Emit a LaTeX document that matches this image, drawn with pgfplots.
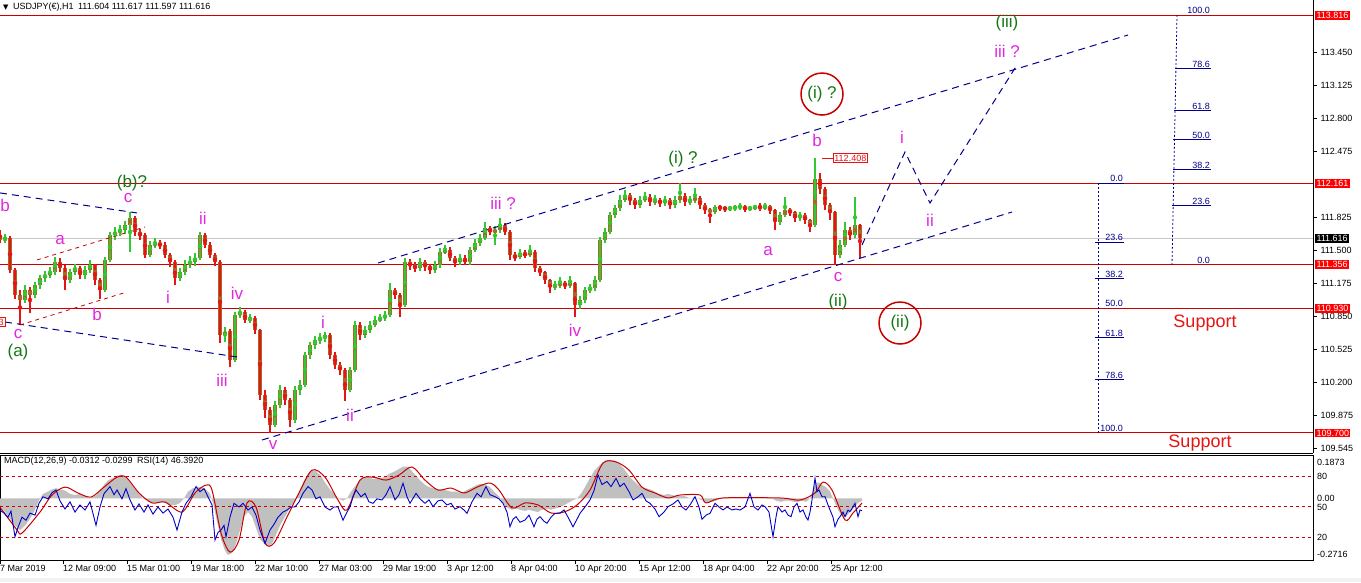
\documentclass[border=0pt]{standalone}
\usepackage{pgfplots}
\pgfplotsset{compat=1.18}
\usepackage{pgfplotstable}
\usepackage{fontspec}
\setmainfont{Liberation Sans}
\newfontfamily\dejavu{DejaVu Sans}

\definecolor{upc}{RGB}{50,200,50}
\definecolor{dnc}{RGB}{230,20,20}
\definecolor{bodyc}{RGB}{165,105,40}
\definecolor{lvl}{RGB}{200,0,0}
\definecolor{navy}{RGB}{0,0,140}
\definecolor{mag}{RGB}{225,40,225}
\definecolor{wgreen}{RGB}{20,120,20}
\definecolor{hist}{RGB}{192,192,192}
\definecolor{rsic}{RGB}{0,0,200}
\definecolor{curp}{RGB}{200,200,200}

\newcommand\smallf{\fontsize{9}{10}\selectfont}
\newcommand\wl{\fontsize{17}{17}\selectfont}

% H1 candles, one every 5 bars (x = bar position)
\pgfplotstableread{
x o h l c
0 111.650 111.700 111.570 111.601
5 111.601 111.660 111.570 111.621
10 111.621 111.640 111.280 111.305
15 111.305 111.330 111.020 111.059
20 111.059 111.110 110.764 111.010
25 111.010 111.160 110.980 111.108
30 111.108 111.140 110.882 111.059
35 111.059 111.190 111.030 111.158
40 111.158 111.260 111.120 111.227
45 111.227 111.300 111.190 111.256
50 111.256 111.330 111.230 111.286
55 111.286 111.433 111.260 111.384
60 111.384 111.420 111.290 111.325
65 111.325 111.350 111.108 111.207
70 111.207 111.320 111.180 111.286
75 111.286 111.370 111.260 111.325
80 111.325 111.350 111.220 111.256
85 111.256 111.340 111.220 111.305
90 111.305 111.400 111.280 111.355
95 111.355 111.370 111.160 111.207
100 111.207 111.230 111.020 111.108
105 111.108 111.430 111.090 111.404
110 111.404 111.680 111.380 111.650
115 111.650 111.730 111.600 111.680
120 111.680 111.749 111.640 111.699
125 111.699 111.790 111.660 111.749
130 111.749 111.877 111.483 111.818
135 111.818 111.840 111.640 111.680
140 111.680 111.710 111.600 111.650
145 111.650 111.670 111.420 111.453
150 111.453 111.590 111.430 111.552
155 111.552 111.620 111.520 111.571
160 111.571 111.600 111.510 111.552
165 111.552 111.580 111.420 111.453
170 111.453 111.470 111.340 111.384
175 111.384 111.400 111.158 111.227
180 111.227 111.320 111.200 111.286
185 111.286 111.400 111.260 111.355
190 111.355 111.440 111.320 111.384
195 111.384 111.470 111.350 111.424
200 111.424 111.680 111.400 111.650
205 111.650 111.670 111.520 111.552
210 111.552 111.580 111.420 111.453
215 111.453 111.470 111.350 111.384
220 111.384 111.400 110.586 110.665
225 110.665 110.740 110.600 110.700
230 110.700 110.720 110.350 110.419
235 110.419 110.890 110.400 110.862
240 110.862 110.941 110.830 110.892
245 110.892 110.910 110.780 110.813
250 110.813 110.870 110.780 110.832
255 110.832 110.850 110.680 110.714
260 110.714 110.730 110.030 110.074
265 110.074 110.120 109.850 109.927
270 109.927 109.960 109.700 109.779
275 109.779 110.020 109.760 109.976
280 109.976 110.170 109.950 110.124
285 110.124 110.150 109.980 110.025
290 110.025 110.050 109.759 109.828
295 109.828 110.160 109.800 110.124
300 110.124 110.220 110.080 110.173
305 110.173 110.500 110.150 110.468
310 110.468 110.600 110.430 110.566
315 110.566 110.660 110.530 110.616
320 110.616 110.680 110.580 110.635
325 110.635 110.694 110.600 110.665
330 110.665 110.680 110.430 110.468
335 110.468 110.500 110.330 110.370
340 110.370 110.400 110.270 110.321
345 110.321 110.340 110.015 110.124
350 110.124 110.350 110.100 110.321
355 110.321 110.800 110.300 110.764
360 110.764 110.790 110.620 110.665
365 110.665 110.750 110.640 110.714
370 110.714 110.800 110.690 110.764
375 110.764 110.850 110.740 110.813
380 110.813 110.870 110.790 110.832
385 110.832 110.900 110.800 110.862
390 110.862 111.177 110.840 111.108
395 111.108 111.130 111.020 111.059
400 111.059 111.080 110.842 110.960
405 110.960 111.420 110.940 111.384
410 111.384 111.410 111.310 111.355
415 111.355 111.380 111.290 111.325
420 111.325 111.420 111.300 111.384
425 111.384 111.400 111.300 111.345
430 111.345 111.370 111.270 111.305
435 111.305 111.390 111.280 111.355
440 111.355 111.520 111.330 111.483
445 111.483 111.550 111.460 111.502
450 111.502 111.530 111.390 111.424
455 111.424 111.440 111.340 111.384
460 111.384 111.460 111.360 111.424
465 111.424 111.450 111.350 111.384
470 111.384 111.530 111.360 111.502
475 111.502 111.610 111.480 111.571
480 111.571 111.660 111.540 111.621
485 111.621 111.778 111.600 111.719
490 111.719 111.740 111.650 111.680
495 111.680 111.740 111.550 111.699
500 111.699 111.818 111.670 111.749
505 111.749 111.770 111.650 111.680
510 111.680 111.700 111.400 111.453
515 111.453 111.480 111.390 111.433
520 111.433 111.510 111.410 111.473
525 111.473 111.500 111.420 111.453
530 111.453 111.550 111.430 111.483
535 111.483 111.500 111.290 111.325
540 111.325 111.340 111.250 111.286
545 111.286 111.300 111.170 111.207
550 111.207 111.220 111.080 111.138
555 111.138 111.200 111.110 111.158
560 111.158 111.240 111.130 111.177
565 111.177 111.200 111.120 111.158
570 111.158 111.250 111.130 111.177
575 111.177 111.190 110.842 110.960
580 110.960 111.050 110.920 111.010
585 111.010 111.140 110.980 111.108
590 111.108 111.170 111.080 111.128
595 111.128 111.250 111.100 111.207
600 111.207 111.630 111.190 111.601
605 111.601 111.720 111.570 111.680
610 111.680 111.880 111.660 111.847
615 111.847 111.950 111.820 111.916
620 111.916 112.040 111.890 111.995
625 111.995 112.090 111.970 112.044
630 112.044 112.060 111.950 111.995
635 111.995 112.020 111.910 111.946
640 111.946 112.030 111.920 111.995
645 111.995 112.070 111.970 112.025
650 112.025 112.050 111.940 111.975
655 111.975 112.040 111.950 111.995
660 111.995 112.020 111.930 111.966
665 111.966 112.030 111.940 111.995
670 111.995 112.010 111.910 111.946
675 111.946 112.030 111.920 111.995
680 111.995 112.162 111.970 112.034
685 112.034 112.060 111.940 111.975
690 111.975 112.030 111.950 111.995
695 111.995 112.113 111.970 112.015
700 112.015 112.030 111.910 111.946
705 111.946 111.960 111.860 111.897
710 111.897 111.920 111.768 111.877
715 111.877 111.950 111.860 111.926
720 111.926 111.950 111.890 111.916
725 111.916 111.940 111.880 111.906
730 111.906 111.940 111.890 111.916
735 111.916 111.950 111.890 111.926
740 111.926 111.960 111.900 111.930
745 111.930 111.950 111.880 111.906
750 111.906 111.940 111.890 111.916
755 111.916 111.950 111.900 111.926
760 111.926 111.960 111.890 111.916
765 111.916 111.970 111.900 111.936
770 111.936 111.950 111.860 111.897
775 111.897 111.910 111.699 111.778
780 111.778 111.880 111.750 111.847
785 111.847 112.025 111.830 111.897
790 111.897 111.920 111.840 111.877
795 111.877 111.890 111.780 111.818
800 111.818 111.880 111.790 111.847
805 111.847 111.870 111.760 111.798
810 111.798 111.810 111.680 111.749
815 111.749 112.408 111.730 112.200
820 112.200 112.260 112.050 112.100
825 112.100 112.120 111.900 111.946
830 111.946 111.970 111.800 111.877
835 111.877 111.890 111.355 111.453
840 111.453 111.600 111.420 111.552
845 111.552 111.778 111.530 111.699
850 111.699 111.730 111.600 111.650
855 111.650 112.025 111.620 111.749
860 111.749 111.760 111.424 111.616
}\candles

% MACD main (histogram)
\pgfplotstableread{
x m
0 -0.03
5 -0.06
10 -0.09
15 -0.12
20 -0.14
25 -0.12
30 -0.09
35 -0.05
39 -0.01
43 0.02
48 0.03
52 0.04
56 0.045
60 0.04
65 0.035
70 0.02
75 0.015
80 0.02
85 0.01
90 0.0
95 0.01
100 0.03
104 0.06
108 0.08
113 0.09
117 0.1
121 0.105
126 0.09
130 0.07
135 0.04
139 0.02
143 0.0
148 -0.01
152 -0.02
156 -0.02
160 -0.015
165 -0.02
170 -0.03
175 -0.03
180 -0.02
184 0.0
188 0.03
193 0.045
197 0.05
202 0.05
206 0.04
210 0.02
213 -0.02
217 -0.1
221 -0.18
225 -0.23
228 -0.25
232 -0.24
236 -0.2
240 -0.14
244 -0.08
248 -0.06
252 -0.08
256 -0.13
260 -0.18
264 -0.2
268 -0.21
272 -0.2
276 -0.16
280 -0.12
285 -0.08
290 -0.04
295 -0.01
299 0.03
303 0.07
308 0.11
312 0.125
316 0.12
321 0.1
325 0.07
330 0.04
334 0.02
338 0.0
343 -0.01
347 0.0
351 0.03
356 0.06
360 0.08
364 0.09
369 0.095
373 0.085
377 0.09
382 0.09
386 0.1
390 0.11
395 0.12
399 0.13
403 0.14
408 0.14
412 0.12
416 0.1
420 0.08
425 0.06
429 0.05
433 0.045
438 0.04
442 0.04
447 0.035
451 0.03
455 0.03
460 0.025
464 0.03
468 0.04
473 0.05
477 0.06
481 0.065
486 0.06
490 0.05
494 0.03
499 0.01
503 -0.02
507 -0.04
512 -0.05
516 -0.045
520 -0.05
525 -0.055
529 -0.05
533 -0.055
538 -0.06
542 -0.05
546 -0.045
551 -0.05
555 -0.045
559 -0.04
564 -0.03
568 -0.02
572 -0.01
577 0.0
581 0.02
585 0.05
590 0.09
594 0.12
598 0.14
603 0.16
607 0.17
611 0.17
616 0.165
620 0.15
624 0.13
629 0.1
633 0.08
638 0.06
642 0.05
646 0.045
650 0.04
655 0.03
659 0.02
664 0.015
668 0.02
672 0.015
677 0.01
681 0.01
685 0.01
690 0.0
694 0.005
698 0.0
703 -0.01
707 -0.02
711 -0.015
716 -0.01
720 0.0
724 0.005
729 0.005
733 0.0
737 0.005
742 0.005
746 0.005
750 0.005
755 0.005
759 0.0
763 0.005
768 0.005
772 0.0
776 -0.01
781 -0.015
785 -0.01
789 -0.01
794 -0.015
798 -0.015
802 -0.01
806 -0.015
810 0.0
813 0.04
816 0.07
819 0.07
822 0.06
826 0.05
830 0.03
834 -0.01
838 -0.05
842 -0.08
846 -0.08
850 -0.06
854 -0.04
858 -0.02
862 -0.01
}\macd

% MACD signal
\pgfplotstableread{
x s
0 -0.038
17 -0.139
22 -0.153
40 -0.06
52 0.015
65 0.05
78 0.024
91 0.006
104 0.05
117 0.094
126 0.094
139 0.024
152 -0.02
165 -0.016
182 -0.06
195 0.024
206 0.059
212 0.037
221 -0.153
230 -0.237
239 -0.184
247 -0.02
256 -0.038
265 -0.197
274 -0.197
287 -0.082
299 0.024
312 0.125
325 0.094
338 -0.007
347 -0.051
360 0.081
373 0.094
386 0.081
399 0.103
412 0.139
425 0.081
438 0.037
451 0.046
464 0.024
477 0.05
490 0.068
499 0.037
512 -0.042
525 -0.02
538 -0.029
551 -0.064
564 -0.06
577 -0.029
590 0.037
603 0.156
616 0.161
629 0.125
642 0.05
655 0.024
668 0.002
680 0.015
700 0.015
706 -0.02
723 0.002
780 0.002
800 -0.007
815 0.024
823 0.072
832 0.037
845 -0.095
853 -0.064
862 -0.02
}\signal

% RSI(14)
\pgfplotstableread{
x r
0 47
4 44
8 40
11 46
13 33
15 20.8
18 30
22 40
26 37
30 44
35 42
39 53.6
43 60
48 58
52 64
56 66.7
60 56
65 48
70 55
75 45
80 52
85 47
90 55
96 32
100 50
104 63
110 70
114 62
117 66.7
122 58
126 68
130 57
135 47
139 53
144 45
148 52
153 43
158 50
163 44
168 48
173 40
177 27.4
182 45
186 53.6
191 60
196 70
200 65
204 68
208 60
212 52
215 17.6
218 25
221 27.4
224 32
226 20.8
230 40
234 53.6
239 50
243 53.6
248 47
252 50
256 42
260 27.4
265 14.3
270 27.4
274 33
278 40
283 45
287 47
291 50
295 50
299 55
303 63.4
308 70
312 66.7
316 58
320 60
325 50
330 47
334 50
338 50
343 37
347 45
350 50
353 60
356 66.7
361 60
365 63.4
369 55
373 53.6
377 58
382 56.9
386 62
390 70
395 57
399 62
403 73.3
407 60
410 53.6
416 63.4
420 58
425 53.6
429 57
433 50.3
438 56
442 56.9
447 52
451 53.6
455 48
460 50.3
464 47
467 43.8
472 55
477 63.4
481 60
486 70
490 62
495 60.1
499 58
503 53.6
507 45
510 30.6
513 38
516 40.5
520 35
525 37.2
529 42
534 30.6
537 38
540 40.5
544 36
547 34
551 40
555 43.8
560 44
564 47.1
568 40
573 30.6
577 38
580 43.8
585 50
590 56.9
594 66
598 81.5
602 72
607 75
611 70
616 78
620 70
624 73.3
629 65
633 56.9
638 60
642 63.4
646 56
650 53.6
655 48
659 40.5
664 45
668 50.3
673 53
678 56.9
682 50
686 47
690 52
695 60.1
699 50
702 38
706 42
710 43.8
715 53.6
719 50
723 47.1
727 50
732 47.1
736 48
740 47
745 50
750 63.4
754 50
758 47
762 52
765 50.3
769 45
773 20.8
776 40
778 50.3
782 45
785 47.1
788 42
791 40.5
794 50
797 53.6
800 45
803 47.1
806 40
808 37.2
810 45
812 56.9
815 78.2
817 65
819 66.7
822 60
825 60.1
828 52
830 47.1
833 40
835 30.6
838 38
840 40.5
843 45
845 40.5
848 47
850 45.4
853 50
855 53.6
858 40.5
860 47
862 46.4
}\rsi

\begin{document}
\begin{tikzpicture}
\path[use as bounding box, fill=white] (0,0) rectangle (1361pt,582pt);
\fill[gray!10] (0,0) rectangle (1361pt,4pt);

% ---------- price panel ----------
\begin{axis}[
    at={(0pt,129pt)}, anchor=south west,
    scale only axis, width=1313pt, height=453pt,
    xmin=0, xmax=1313, ymin=109.503, ymax=113.964,
    axis x line*=bottom, axis y line*=right,
    axis line style={line width=1pt, black},
    xtick=\empty,
    ytick={113.450,113.125,112.800,112.475,111.825,111.500,111.175,110.850,110.525,110.200,109.875,109.545},
    yticklabel style={font=\smallf, /pgf/number format/.cd, fixed, fixed zerofill, precision=3, assume math mode=true},
    tick align=outside, major tick length=4pt,
    tick style={black, line width=0.8pt},
    clip=false,
]
% horizontal levels
\addplot[curp, line width=1pt] coordinates {(0,111.616) (1313,111.616)};
\addplot[lvl, line width=1pt] coordinates {(0,113.816) (1313,113.816)};
\addplot[lvl, line width=1pt] coordinates {(0,112.161) (1313,112.161)};
\addplot[lvl, line width=1pt] coordinates {(0,111.356) (1313,111.356)};
\addplot[lvl, line width=1pt] coordinates {(0,110.930) (1313,110.930)};
\addplot[lvl, line width=1pt] coordinates {(0,109.700) (1313,109.700)};

% candles: bodies (brown) then wicks (green up / red down) on top
\addplot[bodyc, only marks, mark=none,
    error bars/.cd, y dir=both, y explicit, error mark=none,
    error bar style={line width=3.4pt, draw=bodyc}]
    table[x=x, y expr=(\thisrow{o}+\thisrow{c})/2, y error expr={max(abs(\thisrow{c}-\thisrow{o})/2,0.006)}] {\candles};
\addplot[upc, only marks, mark=none, restrict expr to domain={\thisrow{c}-\thisrow{o}}{0:10},
    error bars/.cd, y dir=both, y explicit, error mark=none,
    error bar style={line width=1.4pt, draw=upc}]
    table[x=x, y expr=(\thisrow{h}+\thisrow{l})/2, y error expr=(\thisrow{h}-\thisrow{l})/2] {\candles};
\addplot[dnc, only marks, mark=none, restrict expr to domain={\thisrow{c}-\thisrow{o}}{-10:0},
    error bars/.cd, y dir=both, y explicit, error mark=none,
    error bar style={line width=1.4pt, draw=dnc}]
    table[x=x, y expr=(\thisrow{h}+\thisrow{l})/2, y error expr=(\thisrow{h}-\thisrow{l})/2] {\candles};

% trend lines
\addplot[navy, line width=1pt, dash pattern=on 7pt off 5pt] coordinates {(0,112.064) (137,111.867)};
\addplot[navy, line width=1pt, dash pattern=on 7pt off 5pt] coordinates {(5,110.793) (237,110.449)};
\addplot[navy, line width=1pt, dash pattern=on 7pt off 5pt] coordinates {(378,111.374) (1128,113.619)};
\addplot[navy, line width=1pt, dash pattern=on 7pt off 5pt] coordinates {(262,109.631) (1012,111.876)};
\addplot[navy, line width=1pt, dash pattern=on 7pt off 5pt] coordinates {(862,111.552) (905,112.467) (930,111.965) (1017,113.324)};
\addplot[lvl, line width=0.8pt, dash pattern=on 4pt off 4pt] coordinates {(37,111.404) (145,111.729)};
\addplot[lvl, line width=0.8pt, dash pattern=on 4pt off 4pt] coordinates {(20,110.764) (127,111.089)};

% fibonacci (low swing)
\addplot[navy, line width=0.8pt, dash pattern=on 2pt off 2pt] coordinates {(1098,112.161) (1098,109.700)};
\addplot[navy, line width=1pt] coordinates {(1098,112.161) (1124,112.161)};
\addplot[navy, line width=1pt] coordinates {(1095,111.580) (1124,111.580)};
\addplot[navy, line width=1pt] coordinates {(1095,111.221) (1124,111.221)};
\addplot[navy, line width=1pt] coordinates {(1095,110.640) (1124,110.640)};
\addplot[navy, line width=1pt] coordinates {(1095,110.227) (1124,110.227)};
% fibonacci (high swing)
\addplot[navy, line width=0.8pt, dash pattern=on 2pt off 2pt] coordinates {(1172,111.356) (1177,113.816)};
\addplot[navy, line width=1pt] coordinates {(1172,111.937) (1211,111.937)};
\addplot[navy, line width=1pt] coordinates {(1173,112.296) (1211,112.296)};
\addplot[navy, line width=1pt] coordinates {(1173,112.586) (1211,112.586)};
\addplot[navy, line width=1pt] coordinates {(1174,112.876) (1211,112.876)};
\addplot[navy, line width=1pt] coordinates {(1175,113.290) (1211,113.290)};
\addplot[dnc, line width=1pt] coordinates {(822,112.408) (833,112.408)};

\begin{scope}[every node/.style={navy, font=\smallf, anchor=south east, inner sep=1pt}]
\node at (axis cs:1124,112.161) {0.0};
\node at (axis cs:1124,111.580) {23.6};
\node at (axis cs:1124,111.221) {38.2};
\node at (axis cs:1124,110.931) {50.0};
\node at (axis cs:1124,110.640) {61.8};
\node at (axis cs:1124,110.227) {78.6};
\node at (axis cs:1124,109.700) {100.0};
\node at (axis cs:1211,111.356) {0.0};
\node at (axis cs:1211,111.937) {23.6};
\node at (axis cs:1211,112.296) {38.2};
\node at (axis cs:1211,112.586) {50.0};
\node at (axis cs:1211,112.876) {61.8};
\node at (axis cs:1211,113.290) {78.6};
\node at (axis cs:1211,113.816) {100.0};
\end{scope}

% wave labels
\begin{scope}[every node/.style={mag, font=\wl, inner sep=0pt}]
\node at (axis cs:5,111.945) {b};
\node at (axis cs:60,111.601) {a};
\node at (axis cs:128,112.014) {c};
\node at (axis cs:203,111.817) {ii};
\node at (axis cs:168,111.039) {i};
\node at (axis cs:97,110.872) {b};
\node at (axis cs:18,110.675) {c};
\node at (axis cs:237,111.079) {iv};
\node at (axis cs:222,110.222) {iii};
\node at (axis cs:273,109.582) {v};
\node at (axis cs:323,110.793) {i};
\node at (axis cs:350,109.877) {ii};
\node at (axis cs:503,111.965) {iii ?};
\node at (axis cs:575,110.714) {iv};
\node at (axis cs:768,111.492) {a};
\node at (axis cs:817,112.585) {b};
\node at (axis cs:838,111.236) {c};
\node at (axis cs:902,112.615) {i};
\node at (axis cs:930,111.798) {ii};
\node at (axis cs:1007,113.462) {iii ?};
\end{scope}
\begin{scope}[every node/.style={wgreen, font=\wl, inner sep=0pt}]
\node at (axis cs:132,112.162) {(b)?};
\node at (axis cs:18,110.495) {(a)};
\node at (axis cs:683,112.398) {(i) ?};
\node at (axis cs:838,110.990) {(ii)};
\node at (axis cs:1007,113.738) {(iii)};
\end{scope}
\node[wgreen, font=\wl, draw=lvl, line width=1.5pt, circle, minimum size=42pt, inner sep=0pt] at (axis cs:822,113.038) {(i) ?};
\node[wgreen, font=\wl, draw=lvl, line width=1.5pt, circle, minimum size=42pt, inner sep=0pt] at (axis cs:900,110.783) {(ii)};
\node[dnc, font=\fontsize{18}{18}\selectfont] at (axis cs:1205,110.783) {Support};
\node[dnc, font=\fontsize{18}{18}\selectfont] at (axis cs:1200,109.602) {Support};
\node[draw=dnc, text=dnc, fill=white, font=\smallf, inner sep=1.2pt, anchor=west] at (axis cs:833,112.408) {112.408};
\node[draw=dnc, text=dnc, fill=white, font=\smallf, inner sep=1.2pt, anchor=east] at (axis cs:5,110.793) {110.793};

% price tags on the scale
\begin{scope}[every node/.style={fill=red, text=white, font=\smallf, inner sep=1.3pt, anchor=west}]
\node at (axis cs:1315,113.816) {113.816};
\node at (axis cs:1315,112.161) {112.161};
\node at (axis cs:1315,111.356) {111.356};
\node at (axis cs:1315,110.930) {110.930};
\node at (axis cs:1315,109.700) {109.700};
\end{scope}
\node[fill=black, text=white, font=\smallf, inner sep=1.3pt, anchor=west] at (axis cs:1315,111.616) {111.616};

\node[anchor=west, font=\smallf, inner sep=0pt] at (axis cs:3,113.895) {{\dejavu\fontsize{7}{8}\selectfont ▼}\enspace USDJPY(€),H1\enspace 111.604 111.617 111.597 111.616};
\end{axis}

% ---------- MACD panel ----------
\begin{axis}[
    at={(0pt,22pt)}, anchor=south west,
    scale only axis, width=1313pt, height=104pt,
    xmin=0, xmax=1313, ymin=-0.2718, ymax=0.1873,
    axis line style={line width=1pt, black},
    ytick=\empty,
    xtick={0,63,127,191,255,319,383,447,511,575,639,703,767,831},
    xticklabels={7 Mar 2019,12 Mar 09:00,15 Mar 01:00,19 Mar 18:00,22 Mar 10:00,27 Mar 03:00,29 Mar 19:00,3 Apr 12:00,8 Apr 04:00,10 Apr 20:00,15 Apr 12:00,18 Apr 04:00,22 Apr 20:00,25 Apr 12:00},
    xtick pos=left,
    xticklabel style={font=\smallf, anchor=north west, inner sep=1pt, xshift=-1pt},
    tick align=outside, major tick length=4pt,
    tick style={black, line width=0.8pt},
]
\addplot[fill=hist, draw=none] table[x=x, y=m] {\macd} \closedcycle;
\addplot[lvl, line width=1pt, smooth, tension=0.5] table[x=x, y=s] {\signal};
\end{axis}

% ---------- RSI overlay ----------
\begin{axis}[
    at={(0pt,22pt)}, anchor=south west,
    scale only axis, width=1313pt, height=104pt,
    xmin=0, xmax=1313, ymin=-2, ymax=100,
    hide axis, clip=false,
]
\addplot[lvl, line width=1pt, dash pattern=on 3pt off 3pt] coordinates {(0,80) (1313,80)};
\addplot[lvl, line width=1pt, dash pattern=on 3pt off 3pt] coordinates {(0,50) (1313,50)};
\addplot[lvl, line width=1pt, dash pattern=on 3pt off 3pt] coordinates {(0,20) (1313,20)};
\addplot[rsic, line width=0.9pt] table[x=x, y=r] {\rsi};
\node[anchor=west, font=\smallf, inner sep=0pt] at (axis cs:4,95) {MACD(12,26,9) -0.0312 -0.0299\enspace RSI(14) 46.3920};
\begin{scope}[every node/.style={anchor=west, font=\smallf, inner sep=0pt}]
\node at (axis cs:1317,94.1) {0.1873};
\node at (axis cs:1317,80) {80};
\node at (axis cs:1317,58.4) {0.00};
\node at (axis cs:1317,50) {50};
\node at (axis cs:1317,20) {20};
\node at (axis cs:1317,3.9) {-0.2716};
\end{scope}
\end{axis}
\end{tikzpicture}
\end{document}
